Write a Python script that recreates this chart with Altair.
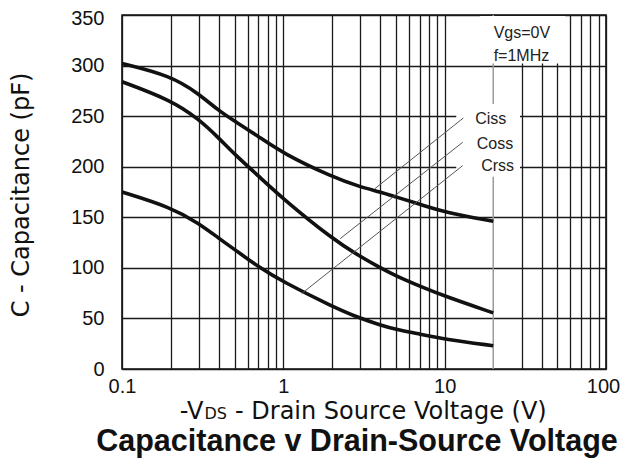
import altair as alt
import pandas as pd

# ---- data ----
volts = [0.1, 0.2, 0.3, 0.4, 0.5, 0.7, 1, 2, 3, 4, 5, 7, 10, 20]
ciss = [302, 290, 272, 255, 245, 230, 213, 190, 180, 175, 170, 163, 155, 146]
coss = [284, 266, 247, 228, 212, 191, 168, 129, 111, 100, 92, 82, 72, 55.5]
crss = [175, 160, 144, 129, 118, 101, 86, 62, 50, 43.5, 39, 34.5, 29.5, 23]
series_names = ["Ciss", "Coss", "Crss"]

# annotation labels (volts, pF)
label_text = ["Ciss", "Coss", "Crss"]
label_v = [19.3, 20.5, 21.3]
label_c = [247, 222, 201]
# leader lines: from curve point to label
lead_v1 = [3.70, 2.25, 1.30]
lead_c1 = [178.4, 128.9, 74.6]
lead_v2 = [13.06, 12.93, 12.93]
lead_c2 = [248.2, 224.1, 201.1]
# condition text
cond_text = ["Vgs=0V", "f=1MHz"]
cond_v = [30.1, 29.9]
cond_c = [332, 309]
# white boxes behind the texts
box_v1 = [11.8, 16.6]
box_v2 = [29.3, 55.8]
box_c1 = [190, 302]
box_c2 = [262, 349]

x_tick_labels = [0.1, 1, 10, 100]
y_ticks = [0, 50, 100, 150, 200, 250, 300, 350]
vmax_line = [20]

grid_values = sorted(set(
    [round(m * 10 ** e, 6) for e in (-1, 0, 1) for m in range(1, 10)] + [100]
) - {20})

curve_df = pd.DataFrame({
    "V": volts * 3,
    "C": ciss + coss + crss,
    "series": [s for s in series_names for _ in volts],
})
labels_df = pd.DataFrame({"V": label_v, "C": label_c, "t": label_text})
lead_df = pd.DataFrame({"V": lead_v1, "C": lead_c1, "V2": lead_v2, "C2": lead_c2})
cond_df = pd.DataFrame({"V": cond_v, "C": cond_c, "t": cond_text})
box_df = pd.DataFrame({"V": box_v1, "V2": box_v2, "C": box_c1, "C2": box_c2})
vline_df = pd.DataFrame({"V": vmax_line})

TICK_FONT = "Liberation Sans"
TITLE_FONT = "DejaVu Sans"
GRID = "#1a1a1a"

label_expr = "(" + " || ".join(f"datum.value == {v}" for v in x_tick_labels) + ") ? datum.label : ''"

xscale = alt.Scale(type="log", domain=[0.1, 100], nice=False)
yscale = alt.Scale(domain=[0, 350], nice=False)

xaxis = alt.Axis(values=grid_values, grid=True, gridColor=GRID, gridWidth=1.3,
                 gridOpacity=1, ticks=False, tickSize=0, domain=False,
                 labelExpr=label_expr, format="~g", labelFont=TICK_FONT,
                 labelFontSize=20, labelColor="#111", labelPadding=7,
                 labelOffset={"condition": {"test": "datum.value == 100", "value": -3},
                              "value": 0},
                 labelOverlap=False, labelFlush=False, labelBaseline="top", title=None)
yaxis = alt.Axis(values=y_ticks, grid=True, gridColor=GRID, gridWidth=1.3,
                 gridOpacity=1, ticks=False, tickSize=0, domain=False,
                 labelFont=TICK_FONT, labelFontSize=20, labelColor="#111",
                 labelPadding=18,
                 labelOffset={"condition": {"test": "datum.value == 350", "value": 3},
                              "value": 0},
                 title=None)

curves = alt.Chart(curve_df).mark_line(color="#111", strokeWidth=3.6,
                                      interpolate="basis").encode(
    x=alt.X("V:Q", scale=xscale, axis=xaxis),
    y=alt.Y("C:Q", scale=yscale, axis=yaxis),
    detail="series:N",
)

vline = alt.Chart(vline_df).mark_rule(color="#9a9a9a", strokeWidth=1.5).encode(
    x=alt.X("V:Q", scale=xscale),
)

boxes = alt.Chart(box_df).mark_rect(fill="white").encode(
    x=alt.X("V:Q", scale=xscale), x2="V2:Q",
    y=alt.Y("C:Q", scale=yscale), y2="C2:Q",
)

leaders = alt.Chart(lead_df).mark_rule(color="#555", strokeWidth=1).encode(
    x=alt.X("V:Q", scale=xscale), x2="V2:Q",
    y=alt.Y("C:Q", scale=yscale), y2="C2:Q",
)

labels = alt.Chart(labels_df).mark_text(font=TICK_FONT, fontSize=16, color="#222",
                                        align="center", baseline="middle").encode(
    x=alt.X("V:Q", scale=xscale), y=alt.Y("C:Q", scale=yscale), text="t:N",
)

cond = alt.Chart(cond_df).mark_text(font=TICK_FONT, fontSize=16, color="#222",
                                    align="center", baseline="middle").encode(
    x=alt.X("V:Q", scale=xscale), y=alt.Y("C:Q", scale=yscale), text="t:N",
)


def txt(s, x, y, size, font, align="left", baseline="alphabetic", angle=0, weight="normal"):
    return alt.Chart(pd.DataFrame({"t": [s]})).mark_text(
        font=font, fontSize=size, color="#111", align=align, baseline=baseline,
        angle=angle, fontWeight=weight,
    ).encode(x=alt.value(x), y=alt.value(y), text="t:N")


xt1 = txt("-V", 81.3, 403.5, 24, TITLE_FONT, align="right")
xt2 = txt("DS", 82.5, 403.5, 16, TITLE_FONT, align="left")
xt3 = txt("- Drain Source Voltage (V)", 113, 403.5, 24, TITLE_FONT, align="left")
yt = txt("C - Capacitance (pF)", -100, 180, 24, TITLE_FONT, align="center",
         baseline="middle", angle=270)
title = txt("Capacitance v Drain-Source Voltage", 235, 436, 30.5, TICK_FONT,
            align="center", weight="bold")

chart = alt.layer(
    vline, boxes, curves, leaders, labels, cond, xt1, xt2, xt3, yt, title
).properties(
    width=484, height=354,
    padding={"left": 114, "top": 7, "right": 15, "bottom": 89},
    autosize=alt.AutoSizeParams(type="none"),
    background="white",
).configure_view(stroke="#111", strokeWidth=1.6, fill="white")

chart.save("out.html", embed_options={"renderer": "svg", "actions": False})
